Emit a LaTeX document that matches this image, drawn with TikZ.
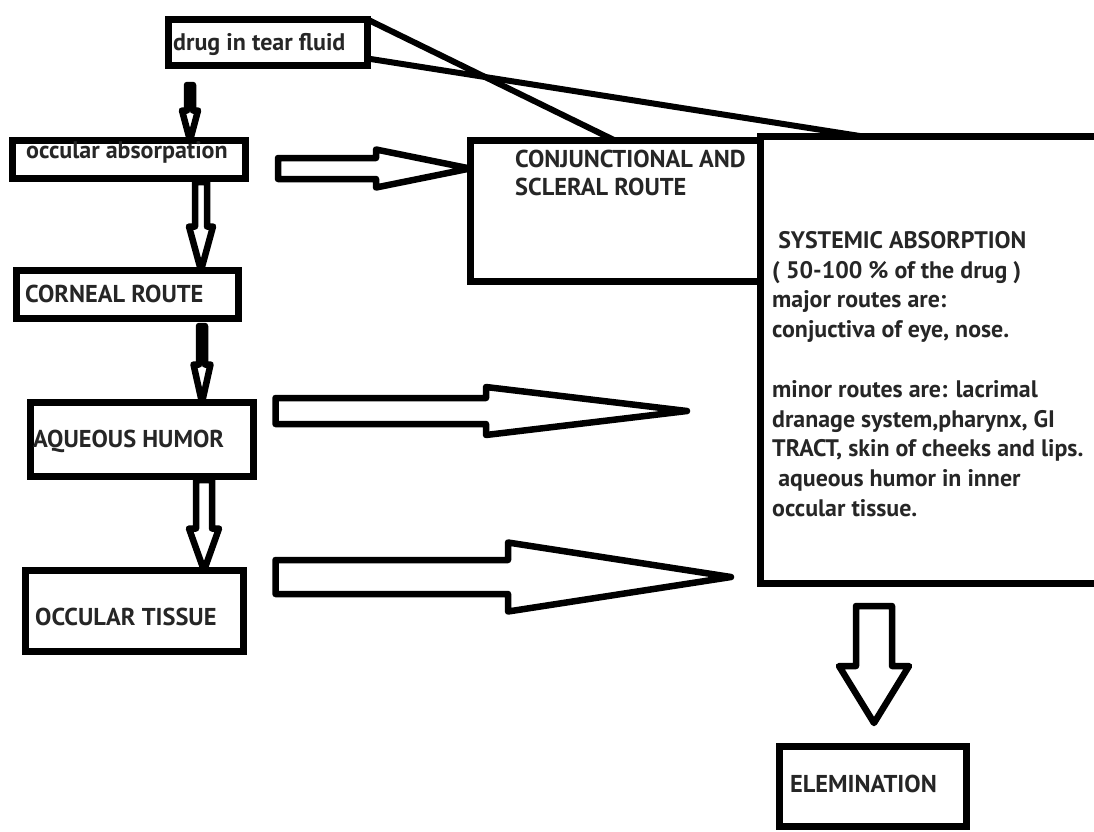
\documentclass[tikz,border=0pt]{standalone}
\usepackage{fontspec}
\setmainfont{PT Sans}
\usetikzlibrary{calc}

% hollow block arrows, from a start point to a tip
\newcommand{\hfat}[5]{% start, tip, stem half width, head half width, head length
  \draw[fat] let \p1=(#1), \p2=(#2) in
    (\x1,\y1+#3pt) -- (\x2-#5pt,\y1+#3pt) -- (\x2-#5pt,\y1+#4pt) -- (\x2,\y1)
    -- (\x2-#5pt,\y1-#4pt) -- (\x2-#5pt,\y1-#3pt) -- (\x1,\y1-#3pt) -- cycle;}
\newcommand{\vfat}[5]{%
  \draw[fat] let \p1=(#1), \p2=(#2) in
    (\x1-#3pt,\y1) -- (\x1-#3pt,\y2+#5pt) -- (\x1-#4pt,\y2+#5pt) -- (\x1,\y2)
    -- (\x1+#4pt,\y2+#5pt) -- (\x1+#3pt,\y2+#5pt) -- (\x1+#3pt,\y1) -- cycle;}

\begin{document}
\begin{tikzpicture}[x=1pt, y=-1pt,
  box/.style={draw, line width=7pt, inner sep=0pt, outer sep=0pt},
  fat/.style={draw, fill=white, line width=6.5pt, line join=round},
  link/.style={line width=6pt, line cap=round},
  lbl/.style={anchor=base west, inner sep=0pt, text=black!85,
    font=\bfseries\fontsize{24}{28}\selectfont},
  big/.style={font=\bfseries\fontsize{24.4}{28}\selectfont}]

  % page
  \fill[white] (0,0) rectangle (1094,831);
  \clip (0,0) rectangle (1094,831);

  % -------------------------------------------------------
  % Boxes (centre and size in pixels of the 1094 x 831 page)
  % -------------------------------------------------------
  \node[box, minimum width=199, minimum height=46] (drug) at (268,42.5) {};
  \node[box, minimum width=233, minimum height=38] (occ)  at (129,159.5) {};
  \node[box, minimum width=222, minimum height=48] (corn) at (127.5,294.5) {};
  \node[box, minimum width=223, minimum height=74] (aq)   at (142,439.5) {};
  \node[box, minimum width=218, minimum height=81] (tis)  at (134.5,611) {};
  \node[box, minimum width=290, minimum height=141] (conj) at (615,211) {};
  \node[box, minimum width=350, minimum height=447] (sys)  at (935,360) {};
  \node[box, minimum width=187, minimum height=80] (elim) at (873,786.5) {};

  % Labels
  \node[lbl] (drugtxt) at (173,50)  {drug in tear fluid};
  \node[lbl] (occtxt)  at (26,158)  {occular absorpation};
  \node[lbl, big] (corntxt) at (25,302) {CORNEAL ROUTE};
  \node[lbl, big] (aqtxt)   at (33,447) {AQUEOUS HUMOR};
  \node[lbl, big] (tistxt)  at (35,625) {OCCULAR TISSUE};
  \node[lbl, big, align=left] (conjtxt) at (515,195)
    {CONJUNCTIONAL AND\\SCLERAL ROUTE};
  \node[lbl, anchor=north west, align=left,
    font=\bfseries\fontsize{23.9}{29.8}\selectfont] (systxt) at (772,231)
    {\ SYSTEMIC ABSORPTION\\
     ( 50-100 \% of the drug )\\
     major routes are:\\
     conjuctiva of eye, nose.\\[29.8pt]
     minor routes are: lacrimal\\
     dranage system,pharynx, GI\\
     TRACT, skin of cheeks and lips.\\
     \ aqueous humor in inner\\
     occular tissue.};
  \node[lbl, big] (elimtxt) at (790,792) {ELEMINATION};

  % ---- lines from the tear fluid box ----
  \coordinate (sysjoin) at ($(sys.north west)+(103,0)$);
  \draw[link] (drug.north east) -- (conj.north);
  \draw[link] ($(drug.south east)+(0,-7)$) -- (sysjoin);

  % ---- downward arrows ----
  \coordinate (a1) at (190,85);
  \coordinate (a2) at (201,182);
  \coordinate (a3) at (202,326);
  \coordinate (a4) at (204,480);
  \coordinate (a5) at (874,606);
  \coordinate (a5tip) at (874,723);
  \vfat{a1}{a1 |- occ.north}{3}{8}{30}
  \vfat{a2}{a2 |- corn.north}{6}{12}{44}
  \vfat{a3}{a3 |- aq.north}{3}{8.5}{38}
  \vfat{a4}{a4 |- tis.north}{8}{15}{42}
  \vfat{a5}{a5tip}{18}{35}{57}

  % ---- arrows to the right ----
  \coordinate (a6) at (278,168.5);
  \coordinate (a7) at (275.5,411);
  \coordinate (a7tip) at (687,411);
  \coordinate (a8) at (275.5,577);
  \coordinate (a8tip) at (731,577);
  \hfat{a6}{a6 -| conj.west}{10.5}{19}{94}
  \hfat{a7}{a7tip}{13}{24}{201}
  \hfat{a8}{a8tip}{17}{34.5}{223}

\end{tikzpicture}
\end{document}
